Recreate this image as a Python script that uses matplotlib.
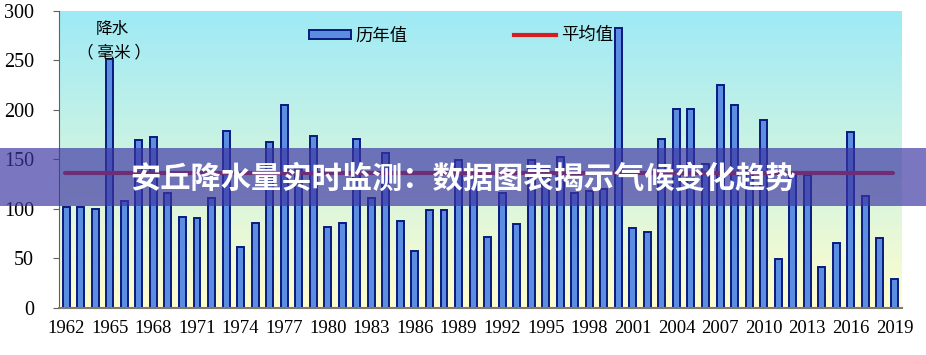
import numpy as np
import matplotlib
matplotlib.use("Agg")
import matplotlib.pyplot as plt
from matplotlib.patches import Rectangle, Patch
from matplotlib.lines import Line2D

# yearly precipitation (mm)
years = list(range(1962, 2020))
values = [102, 102, 100, 252, 108, 170, 173, 116, 92, 91,
          111, 179, 61, 86, 167, 205, 140, 174, 81, 86,
          171, 111, 156, 88, 57, 99, 99, 149, 135, 71,
          116, 85, 149, 140, 152, 116, 118, 120, 283, 80,
          76, 171, 201, 201, 145, 225, 205, 140, 190, 49,
          134, 134, 41, 65, 178, 113, 70, 29]
mean_value = 136
tick_years = list(range(1962, 2020, 3))
title = "安丘降水量实时监测：数据图表揭示气候变化趋势"

cjk = ["Noto Sans CJK SC", "DejaVu Sans"]

fig = plt.figure(figsize=(9.26, 3.55), dpi=100)
ax = fig.add_axes([0.0637, 0.1338, 0.910, 0.835])

x = np.arange(len(years))

# gradient background, cyan at top to pale yellow at bottom
top = np.array([158, 234, 246]) / 255
bottom = np.array([255, 253, 205]) / 255
t = np.linspace(0, 1, 256)[:, None]
grad = top * (1 - t) + bottom * t
ax.imshow(grad[:, None, :], extent=[-0.5, len(years) - 0.5, 0, 300],
          aspect="auto", zorder=0)

ax.bar(x, values, width=0.48, color="#5b8de0", edgecolor="#0a1a80",
       linewidth=1.4, zorder=2)
ax.plot([-0.1, len(years) - 1.1], [mean_value, mean_value], color="#d61e1e",
        linewidth=3, zorder=3, solid_capstyle="round")

ax.set_xlim(-0.5, len(years) - 0.5)
ax.set_ylim(0, 300)
ax.set_yticks(range(0, 301, 50))
ax.set_xticks([years.index(y) for y in tick_years])
ax.set_xticklabels([str(y) for y in tick_years])
for lab in ax.get_xticklabels():
    lab.set_family("Liberation Serif")
    lab.set_fontsize(13.5)
for lab in ax.get_yticklabels():
    lab.set_family("Liberation Serif")
    lab.set_fontsize(14.5)
ax.tick_params(axis="x", length=0, pad=9)
ax.tick_params(axis="y", length=4.5, direction="out", color="#606060", pad=13.5)

for s in ["top", "right"]:
    ax.spines[s].set_visible(False)
ax.spines["left"].set_color("#606060")
ax.spines["bottom"].set_color("#807a6a")
ax.spines["bottom"].set_linewidth(1.5)

ax.text(3.2, 281, "降水", family=cjk, fontsize=12, ha="center", va="center")
ax.text(3.3, 258, "（ 毫米 ）", family=cjk, fontsize=12, ha="center", va="center")

handles = [Patch(facecolor="#5b8de0", edgecolor="#0a1a80", linewidth=1.4),
           Line2D([], [], color="#d61e1e", linewidth=3)]
ax.legend(handles, ["历年值", "平均值"], loc="center", bbox_to_anchor=(0.477, 0.918),
          ncol=2, frameon=False, prop={"family": cjk, "size": 12.5},
          handlelength=2.4, handleheight=0.4, columnspacing=6.1, handletextpad=0.3)

# semi-transparent banner with the title
fig.patches.append(Rectangle((0, 0.4197), 1, 0.1633, transform=fig.transFigure,
                             facecolor="#3d35a3", alpha=0.68, zorder=10))
fig.text(0.5, 0.497, title, family=cjk, fontsize=21.8, fontweight="black",
         color="white", ha="center", va="center", zorder=11)

fig.savefig("out.png", dpi=100)
